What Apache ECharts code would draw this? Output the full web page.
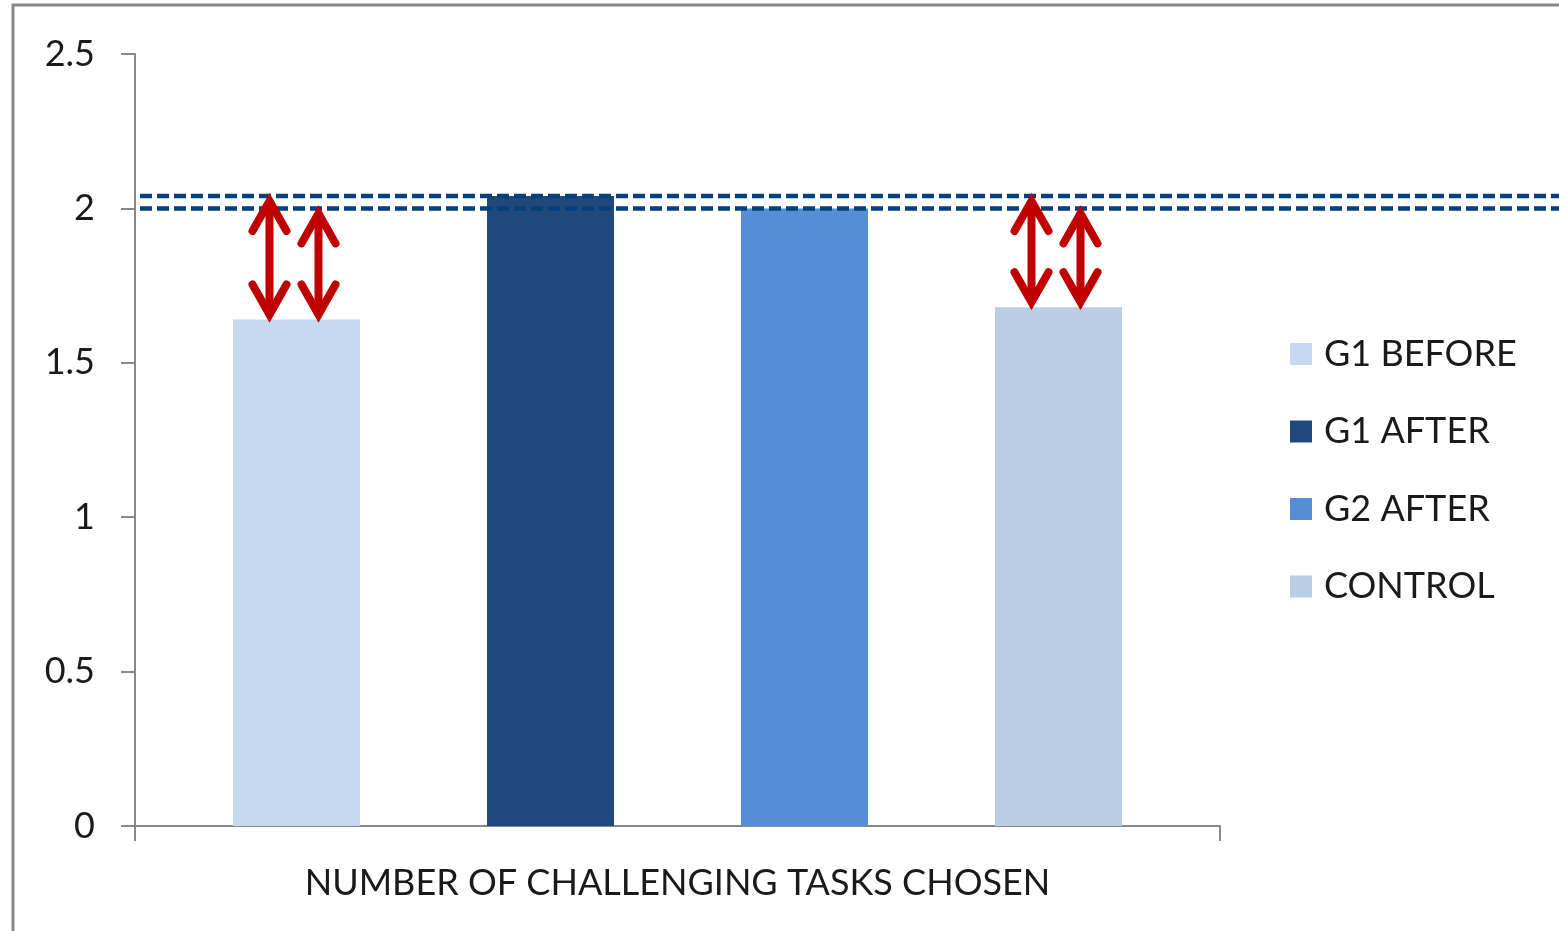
<!DOCTYPE html>
<html>
<head>
<meta charset="utf-8">
<script src="https://cdn.jsdelivr.net/npm/echarts@6/dist/echarts.min.js"></script>
<style>
html,body{margin:0;padding:0;background:#fff;}
#chart{width:1559px;height:931px;}
</style>
</head>
<body>
<div id="chart"></div>
<script>
// ---- DATA ----
const categories = ['NUMBER OF CHALLENGING TASKS CHOSEN'];
const seriesNames = ['G1 BEFORE', 'G1 AFTER', 'G2 AFTER', 'CONTROL'];
const g1Before = [1.64];
const g1After = [2.04];
const g2After = [2.0];
const control = [1.68];
const yTickLabels = ['0', '0.5', '1', '1.5', '2', '2.5'];
const referenceLevels = ['G1 AFTER', 'G2 AFTER'];            // dashed lines at these bar tops
const arrowPairs = [                                         // [from bar, to level of]
  ['G1 BEFORE', 'G1 AFTER'],
  ['G1 BEFORE', 'G2 AFTER'],
  ['CONTROL', 'G1 AFTER'],
  ['CONTROL', 'G2 AFTER']
];

// ---- STYLE ----
const colors = ['#c6d9f1', '#1f497d', '#558ed5', '#b9cde5'];
const FONT = 'Lato';
const FS = 36;
const BAR_W = 127;
const valuesByName = {
  'G1 BEFORE': g1Before, 'G1 AFTER': g1After, 'G2 AFTER': g2After, 'CONTROL': control
};
const arrowOffset = {'G1 AFTER': -27, 'G2 AFTER': 22};

const chart = echarts.init(document.getElementById('chart'), null, {renderer: 'canvas'});

function barCenterX(api, idx) {
  const c = api.coord([0, 0])[0];
  return c + (idx - 1.5) * 2 * BAR_W;
}

const barSeries = seriesNames.map((n, i) => ({
  name: n,
  type: 'bar',
  data: valuesByName[n],
  barWidth: BAR_W,
  barGap: '100%',
  itemStyle: {color: colors[i]},
  z: 2
}));

const lineSeries = {
  type: 'custom',
  name: 'levels',
  data: [[0]],
  z: 5,
  clip: false,
  silent: true,
  renderItem: function (params, api) {
    const band = api.size([1, 0])[0];
    const cx = api.coord([0, 0])[0];
    const x0 = cx - band / 2 + 5;
    const x1 = api.getWidth();
    const children = referenceLevels.map(n => {
      const y = api.coord([0, valuesByName[n][0]])[1];
      return {
        type: 'line',
        shape: {x1: x0, y1: y, x2: x1, y2: y},
        style: {stroke: '#053f7c', lineWidth: 4.5, lineDash: [12, 5]}
      };
    });
    return {type: 'group', children: children};
  }
};

const arrowSeries = {
  type: 'custom',
  name: 'arrows',
  data: [[0]],
  z: 6,
  clip: false,
  silent: true,
  renderItem: function (params, api) {
    const children = [];
    arrowPairs.forEach(([from, to]) => {
      const idx = seriesNames.indexOf(from);
      const x = barCenterX(api, idx) + arrowOffset[to];
      const yTop = api.coord([0, valuesByName[to][0]])[1];
      const yBot = api.coord([0, valuesByName[from][0]])[1];
      const hw = 17, hl = 30, inset = 5;
      const st = {stroke: '#c00000', lineWidth: 8, lineCap: 'round', lineJoin: 'miter', fill: null};
      children.push({type: 'line', shape: {x1: x, y1: yTop + inset + 2, x2: x, y2: yBot - inset - 2}, style: st});
      children.push({type: 'polyline', shape: {points: [[x - hw, yTop + inset + hl], [x, yTop + inset], [x + hw, yTop + inset + hl]]}, style: st});
      children.push({type: 'polyline', shape: {points: [[x - hw, yBot - inset - hl], [x, yBot - inset], [x + hw, yBot - inset - hl]]}, style: st});
    });
    return {type: 'group', children: children};
  }
};

const option = {
  backgroundColor: '#fff',
  animation: false,
  textStyle: {fontFamily: FONT},
  graphic: [{
    type: 'rect',
    shape: {x: 13, y: 5, width: 1700, height: 1100},
    style: {fill: null, stroke: '#878787', lineWidth: 3},
    silent: true,
    z: 100
  }],
  grid: {left: 135, right: 339, top: 54, bottom: 105, containLabel: false},
  legend: {
    data: seriesNames,
    orient: 'vertical',
    left: 1290,
    top: 334,
    padding: 0,
    itemWidth: 22,
    itemHeight: 22,
    itemGap: 37.5,
    icon: 'rect',
    textStyle: {fontFamily: FONT, fontSize: FS, color: '#1a1a1a', lineHeight: 40, padding: [0, 0, 0, 7]}
  },
  xAxis: {
    type: 'category',
    data: categories,
    boundaryGap: true,
    axisLine: {lineStyle: {color: '#888', width: 2}},
    axisTick: {show: true, length: 15, lineStyle: {color: '#888', width: 2}},
    axisLabel: {fontFamily: FONT, fontSize: FS, color: '#1a1a1a', margin: 39}
  },
  yAxis: {
    type: 'value',
    min: 0,
    max: 2.5,
    interval: 0.5,
    splitLine: {show: false},
    axisLine: {show: true, lineStyle: {color: '#888', width: 2}},
    axisTick: {show: true, length: 14, lineStyle: {color: '#888', width: 2}},
    axisLabel: {
      fontFamily: FONT, fontSize: FS, color: '#1a1a1a', margin: 40,
      formatter: function (v) { return yTickLabels[Math.round(v / 0.5)]; }
    }
  },
  series: barSeries.concat([lineSeries, arrowSeries])
};
chart.setOption(option);
</script>
</body>
</html>
